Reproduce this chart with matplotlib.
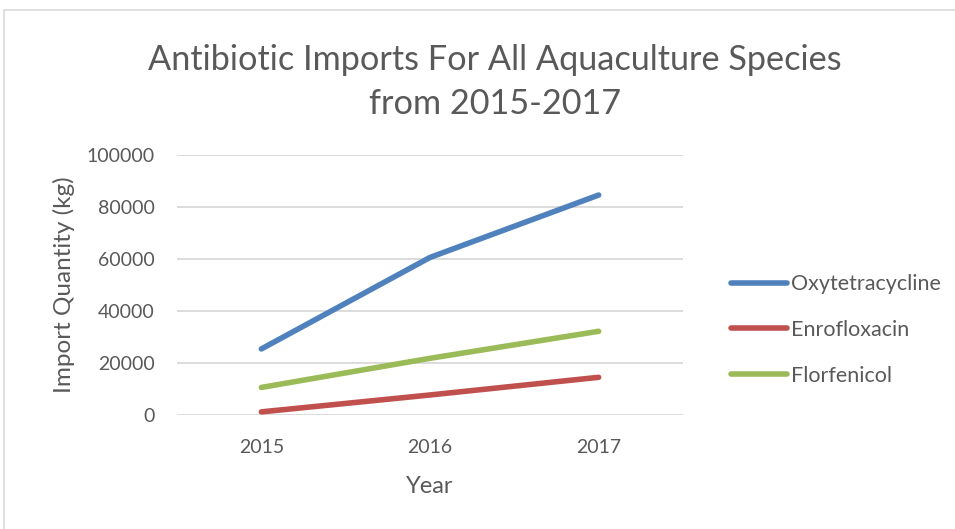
import matplotlib.pyplot as plt
from matplotlib.patches import Rectangle

# Datos
years = ['2015', '2016', '2017']
oxytetracycline = [25400, 60600, 84600]
enrofloxacin = [1200, 7700, 14500]
florfenicol = [10600, 21800, 32200]
y_ticks = [0, 20000, 40000, 60000, 80000, 100000]

plt.rcParams['font.family'] = ['Lato', 'DejaVu Sans']
grey = '#595959'

fig = plt.figure(figsize=(9.55, 5.29), dpi=100)
fig.patches.append(Rectangle((4 / 955, -0.05), 1.1, 1 - 10 / 529 + 0.05,
                             transform=fig.transFigure, fill=False,
                             edgecolor='#D9D9D9', linewidth=1.2))

ax = fig.add_axes([177 / 955, 1 - 415 / 529, (683 - 177) / 955, 260 / 529])
x = range(len(years))
ax.plot(x, oxytetracycline, color='#4F81BD', lw=4, label='Oxytetracycline',
        solid_capstyle='round')
ax.plot(x, enrofloxacin, color='#C0504D', lw=4, label='Enrofloxacin',
        solid_capstyle='round')
ax.plot(x, florfenicol, color='#9BBB59', lw=4, label='Florfenicol',
        solid_capstyle='round')

ax.set_xlim(-0.5, 2.5)
ax.set_ylim(0, 100000)
ax.set_xticks(list(x))
ax.set_xticklabels(years)
ax.set_yticks(y_ticks)
ax.set_yticklabels([str(v) for v in y_ticks])
ax.grid(axis='y', color='#D9D9D9', lw=1.3)
ax.set_axisbelow(True)
for s in ax.spines.values():
    s.set_visible(False)
ax.tick_params(length=0, labelsize=14, colors=grey)
ax.tick_params(axis='y', pad=16)
ax.tick_params(axis='x', pad=17)

ax.set_xlabel('Year', fontsize=17, color=grey)
ax.xaxis.set_label_coords(0.5, (415 - 476) / 260)
ax.set_ylabel('Import Quantity (kg)', fontsize=17.5, color=grey)
ax.yaxis.set_label_coords((75 - 177) / 506, 0.5)

fig.text(495 / 955, 1 - 82 / 529,
         'Antibiotic Imports For All Aquaculture Species\nfrom 2015-2017',
         ha='center', va='center', fontsize=24.7, color=grey, linespacing=1.47)

leg = fig.legend(loc='center left', bbox_to_anchor=(722 / 955, 1 - 330 / 529),
                 frameon=False, fontsize=15.5, handlelength=2.6,
                 handletextpad=0.2, labelspacing=1.2, borderaxespad=0)
for t in leg.get_texts():
    t.set_color(grey)

fig.savefig('out.png', dpi=100, facecolor='white')
